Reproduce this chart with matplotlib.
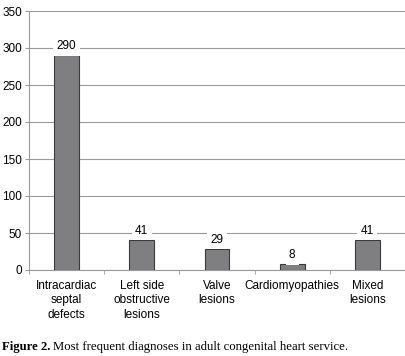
import matplotlib.pyplot as plt
import numpy as np
from matplotlib import font_manager

categories = ["Intracardiac\nseptal\ndefects", "Left side\nobstructive\nlesions",
              "Valve\nlesions", "Cardiomyopathies", "Mixed\nlesions"]
counts = [290, 41, 29, 8, 41]
yticks = [0, 50, 100, 150, 200, 250, 300, 350]

names = {f.name for f in font_manager.fontManager.ttflist}
narrow = "Liberation Sans Narrow" if "Liberation Sans Narrow" in names else "Liberation Sans"
fs = 10 if narrow.endswith("Narrow") else 8.5

fig = plt.figure(figsize=(4.06, 3.56), dpi=100)
ax = fig.add_axes([29 / 406, 1 - 270 / 356, 376 / 406, 259 / 356])

x = np.arange(len(counts))
ax.bar(x, counts, width=0.33, color="#7f7f81", edgecolor="#3a3a3a", linewidth=0.8, zorder=3)
for xi, v in zip(x, counts):
    ax.text(xi, v + 4, str(v), ha="center", va="bottom", fontsize=fs, family=narrow,
            zorder=4, bbox=dict(facecolor="white", edgecolor="none", pad=2.5))

ax.set_xlim(-0.5, len(counts) - 0.5)
ax.set_ylim(0, 350)
ax.set_yticks(yticks)
ax.set_yticklabels([str(t) for t in yticks], family=narrow, fontsize=fs)
ax.yaxis.grid(True, color="#9a9a9a", linewidth=0.8, zorder=0)
ax.tick_params(axis="y", length=3, color="#9a9a9a", pad=2)

ax.set_xticks(x)
ax.set_xticklabels(categories, family=narrow, fontsize=fs, linespacing=1.3)
ax.tick_params(axis="x", length=0, pad=7)
ax.set_xticks(np.arange(len(counts) + 1) - 0.5, minor=True)
ax.tick_params(axis="x", which="minor", length=3, color="#9a9a9a")

for s in ["top", "right"]:
    ax.spines[s].set_visible(False)
for s in ["left", "bottom"]:
    ax.spines[s].set_color("#9a9a9a")
    ax.spines[s].set_linewidth(0.8)

fig.text(2 / 406, 1 - 347 / 356, "Figure 2.", family="Liberation Serif", fontweight="bold",
         fontsize=9.2, va="center")
fig.text(53 / 406, 1 - 347 / 356, "Most frequent diagnoses in adult congenital heart service.",
         family="Liberation Serif", fontsize=9.2, va="center")

fig.savefig("out.png", dpi=100)
